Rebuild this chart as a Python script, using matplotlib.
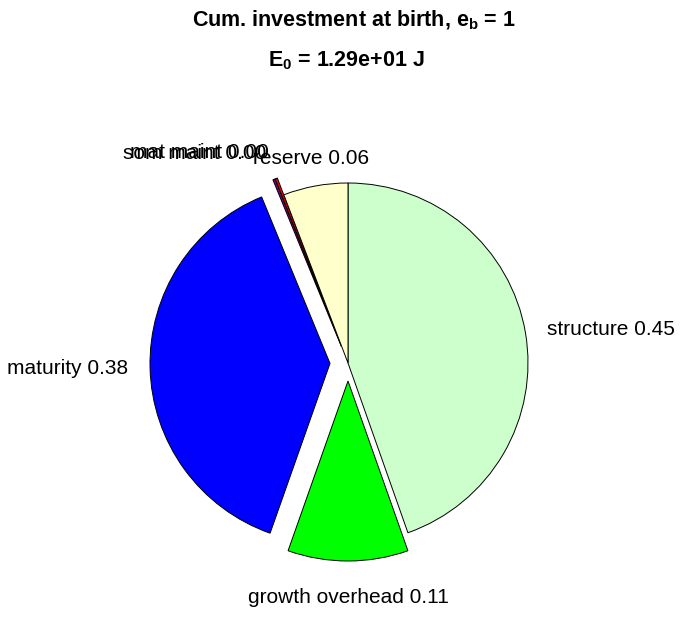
import numpy as np
import matplotlib.pyplot as plt

# ==========================================
# Data
# ==========================================
names = ["structure", "growth overhead", "maturity", "som maint", "mat maint", "reserve"]
fractions = [0.446, 0.108, 0.384, 0.002, 0.002, 0.058]
explode_flags = [0, 1, 1, 1, 1, 0]
colors = ["#CCFFCC", "#00FF00", "#0000FF", "#800080", "#FF0000", "#FFFFCC"]

title_line1 = r"Cum. investment at birth, e$_\mathbf{b}$ = 1"
title_line2 = r"E$_\mathbf{0}$ = 1.29e+01 J"

plt.rcParams['font.family'] = ['Liberation Sans', 'DejaVu Sans']
plt.rcParams['mathtext.fontset'] = 'custom'
plt.rcParams['mathtext.rm'] = 'Liberation Sans'
plt.rcParams['mathtext.bf'] = 'Liberation Sans:bold'

W, H = 696, 618
fig = plt.figure(figsize=(W / 100, H / 100), dpi=100)
ax = fig.add_axes([0, 0, 1, 1])

# pie centre in pixels, radius 180 px -> 1 data unit
cx, cy, R = 348, 363, 180.0
explode = [0.1 * e for e in explode_flags]

wedges, _ = ax.pie(fractions, explode=explode, colors=colors, startangle=90,
                   counterclock=False, radius=1.0,
                   wedgeprops=dict(edgecolor='black', linewidth=0.7))

ax.set_xlim(-cx / R, (W - cx) / R)
ax.set_ylim(-(H - cy) / R, cy / R)
ax.set_aspect('equal')
ax.axis('off')

# labels placed MATLAB-style: just outside the rim, alignment by direction
for w, name, frac in zip(wedges, names, fractions):
	mid = np.deg2rad(0.5 * (w.theta1 + w.theta2))
	dx, dy = np.cos(mid), np.sin(mid)
	x0, y0 = w.center
	tx, ty = x0 + 1.12 * dx, y0 + 1.1 * dy
	ha = 'left' if dx > 0.3 else ('right' if dx < -0.3 else 'center')
	va = 'bottom' if dy > 0.3 else ('top' if dy < -0.3 else 'center')
	if va == 'top':
		ty -= 0.05
	ax.text(tx, ty, f"{name} {frac:.2f}", ha=ha, va=va, fontsize=15)

fig.text(354 / W, 1 - 20 / H, title_line1, ha='center', va='center',
		 fontsize=15.5, weight='bold')
fig.text(346 / W, 1 - 61 / H, title_line2, ha='center', va='center',
		 fontsize=15.5, weight='bold')

plt.savefig("out.png", dpi=100)
plt.close()
